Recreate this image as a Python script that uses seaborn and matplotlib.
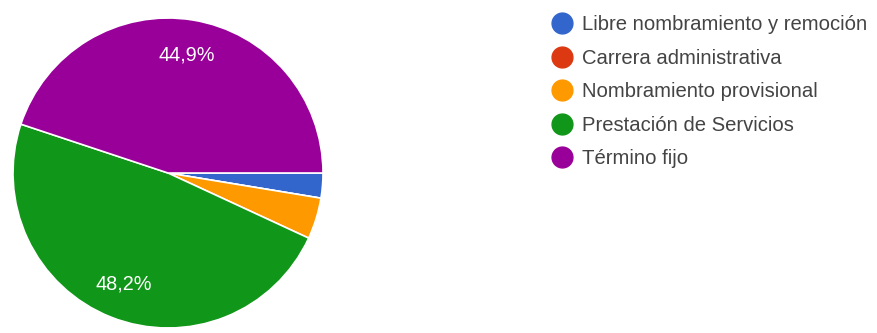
import matplotlib
matplotlib.use("Agg")
import matplotlib.pyplot as plt
from matplotlib.lines import Line2D
import seaborn as sns

# Tipo de vinculación (porcentaje de respuestas)
categorias = [
    "Libre nombramiento y remoción",
    "Carrera administrativa",
    "Nombramiento provisional",
    "Prestación de Servicios",
    "Término fijo",
]
porcentajes = [2.6, 0.0, 4.3, 48.2, 44.9]
colores = ["#3366cc", "#dc3912", "#ff9900", "#109618", "#990099"]

sns.set_theme(style="white")
plt.rcParams["font.family"] = ["Liberation Sans", "DejaVu Sans"]
paleta = sns.color_palette(colores)

fig = plt.figure(figsize=(8.77, 3.33), dpi=100)
ax = fig.add_axes([13 / 877, 5 / 333, 310 / 877, 310 / 333])


def etiqueta(p):
    # only the large slices carry a percentage label
    return f"{p:.1f}%".replace(".", ",") if p >= 10 else ""


ax.pie(
    porcentajes,
    colors=paleta,
    startangle=0,
    counterclock=False,
    autopct=etiqueta,
    pctdistance=0.77,
    wedgeprops=dict(edgecolor="white", linewidth=1.2),
    textprops=dict(color="white", fontsize=14.3),
)
ax.set_xlim(-1, 1)
ax.set_ylim(-1, 1)
ax.set_aspect("equal")
ax.axis("off")

handles = [
    Line2D([0], [0], marker="o", linestyle="", markersize=15,
           markerfacecolor=c, markeredgecolor=c)
    for c in paleta
]
leg = fig.legend(
    handles, categorias,
    loc="upper left",
    bbox_to_anchor=(552 / 877, 1 - 15 / 333),
    frameon=False,
    fontsize=14.6,
    handlelength=1.0,
    handletextpad=0.49,
    labelspacing=0.72,
    borderpad=0,
    borderaxespad=0,
)
for t in leg.get_texts():
    t.set_color("#444444")

fig.savefig("out.png", dpi=100)
